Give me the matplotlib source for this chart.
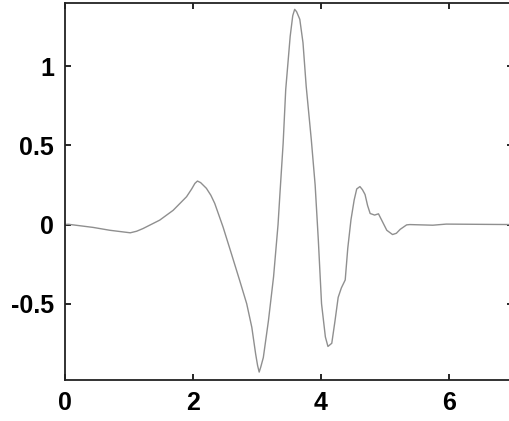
import matplotlib
matplotlib.use("Agg")
import matplotlib.pyplot as plt

x_vals = [0.00, 0.05, 0.44, 0.70, 0.90, 1.02, 1.12, 1.22, 1.48, 1.69, 1.90, 1.98, 2.03, 2.07,
          2.12, 2.21, 2.28, 2.34, 2.47, 2.60, 2.73, 2.84, 2.92, 2.98, 3.01, 3.035, 3.06, 3.10,
          3.18, 3.26, 3.33, 3.36, 3.41, 3.45, 3.52, 3.56, 3.59, 3.62, 3.67, 3.72, 3.77, 3.85,
          3.91, 3.96, 4.01, 4.07, 4.11, 4.17, 4.22, 4.27, 4.32, 4.38, 4.42, 4.47, 4.52, 4.56,
          4.61, 4.65, 4.69, 4.73, 4.77, 4.84, 4.90, 4.95, 5.03, 5.12, 5.18, 5.24, 5.34, 5.39,
          5.75, 5.96, 7.00]
y_vals = [0.000, 0.002, -0.018, -0.036, -0.046, -0.052, -0.042, -0.025, 0.028, 0.090, 0.176, 0.225, 0.260, 0.275,
          0.265, 0.229, 0.185, 0.134, -0.015, -0.183, -0.353, -0.500, -0.649, -0.818, -0.890, -0.932, -0.900, -0.840,
          -0.607, -0.330, 0.000, 0.197, 0.515, 0.853, 1.190, 1.320, 1.360, 1.345, 1.297, 1.149, 0.874, 0.536,
          0.250, -0.100, -0.500, -0.710, -0.770, -0.750, -0.610, -0.460, -0.400, -0.350, -0.150, 0.030, 0.155, 0.225,
          0.240, 0.220, 0.190, 0.120, 0.070, 0.060, 0.068, 0.028, -0.036, -0.063, -0.055, -0.030, -0.002, 0.000,
          -0.004, 0.003, 0.000]

x_ticks = [0, 2, 4, 6]
y_ticks = [-0.5, 0, 0.5, 1]
y_tick_labels = ["-0.5", "0", "0.5", "1"]

fig = plt.figure(figsize=(5.10, 4.21), dpi=100)
ax = fig.add_axes([0.1275, 0.0974, 0.878, 0.8955])
ax.plot(x_vals, y_vals, color="#8f8f8f", linewidth=1.0)
ax.set_xlim(0, 7)
ax.set_ylim(-0.982, 1.40)
ax.set_xticks(x_ticks)
ax.set_xticklabels([str(t) for t in x_ticks])
ax.set_yticks(y_ticks)
ax.set_yticklabels(y_tick_labels)
ax.tick_params(direction="in", length=4, width=1.2, top=True, right=True, pad=8)
for lab in ax.get_xticklabels() + ax.get_yticklabels():
    lab.set_fontfamily("Liberation Sans")
    lab.set_fontweight("bold")
    lab.set_fontsize(18)
for s in ax.spines.values():
    s.set_linewidth(1.3)
    s.set_color("#222222")
fig.savefig("out.png", dpi=100)
